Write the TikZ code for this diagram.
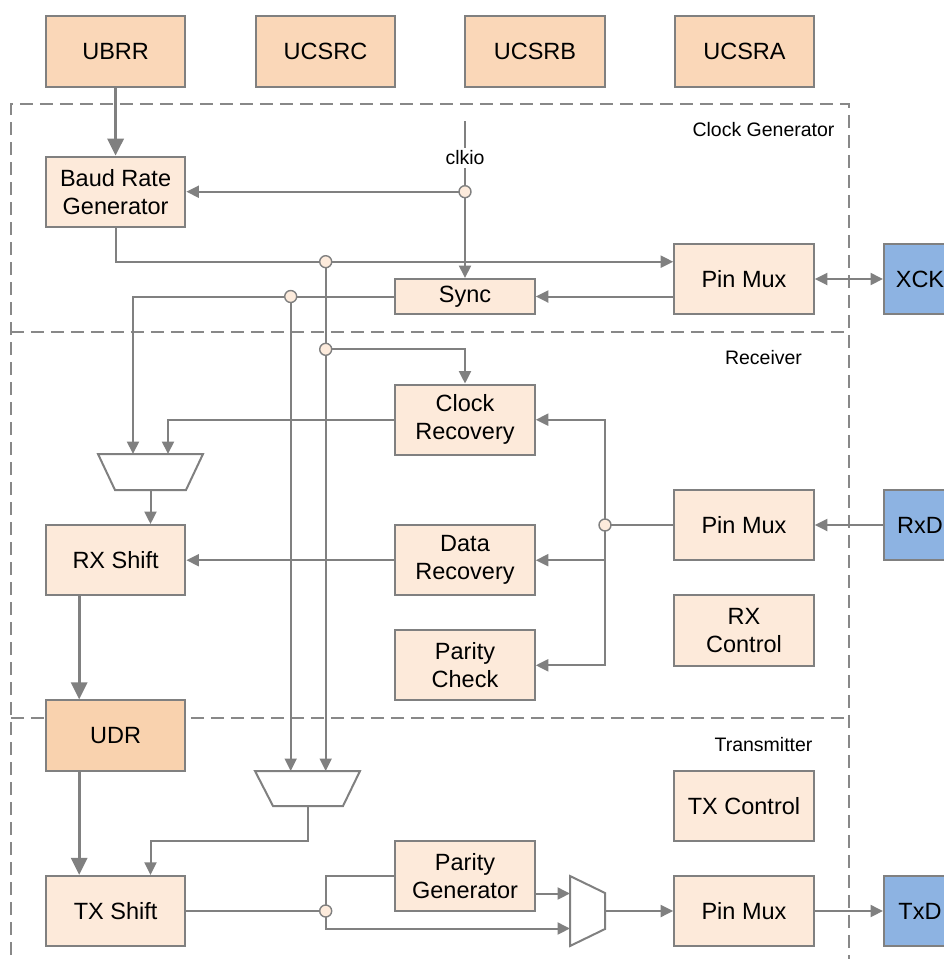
\documentclass[tikz,border=0pt]{standalone}
\usepackage{fontspec}
\setmainfont{Liberation Sans}
\usetikzlibrary{arrows.meta,calc}
\definecolor{lg}{HTML}{808080}
\definecolor{dg}{HTML}{888888}
\definecolor{boxf}{HTML}{FDEADA}
\definecolor{regf}{HTML}{FAD7B8}
\definecolor{udrf}{HTML}{F9D2AE}
\definecolor{pinf}{HTML}{8DB3E2}
\definecolor{junf}{HTML}{FDEBDC}
\begin{document}
\begin{tikzpicture}[x=1pt,y=-1pt,
  blk/.style={draw=lg, line width=2pt, fill=boxf, minimum width=139.6pt, minimum height=70.3pt, inner sep=0pt, align=center, font=\fontsize{23.5}{28}\selectfont},
  regbox/.style={blk, fill=regf},
  udrbox/.style={blk, fill=udrf},
  pinbox/.style={blk, fill=pinf, minimum width=72pt},
  lbl/.style={font=\fontsize{19.5}{23}\selectfont, inner sep=1pt},
  wire/.style={draw=lg, line width=2pt},
  arr/.style={wire, -{Triangle[length=12.5pt,width=12pt]}},
  darr/.style={wire, {Triangle[length=12.5pt,width=12pt]}-{Triangle[length=12.5pt,width=12pt]}},
  bigarr/.style={draw=lg, line width=3.2pt, -{Triangle[length=17pt,width=16pt]}},
  frame/.style={draw=dg, line width=1.8pt, dash pattern=on 13pt off 7pt},
  mux/.style={draw=lg, line width=2pt, fill=white, line join=miter},
  junc/.style={circle, draw=lg, line width=1.4pt, fill=junf, minimum size=12pt, inner sep=0pt}
]
\useasboundingbox (0,0) rectangle (944,959);
\clip (0,0) rectangle (944,959);

% section frames
\draw[frame] (10.8,975) -- (10.8,104) -- (849,104) -- (849,975);
\draw[frame] (10.8,331.7) -- (849,331.7);
\draw[frame] (10.8,717.7) -- (849,717.7);
\node[lbl] (lcg) at (763.5,130) {Clock Generator};
\node[lbl] (lrx) at (763.5,357.7) {Receiver};
\node[lbl] (ltx) at (763.5,745) {Transmitter};

% registers
\node[regbox] (ubrr)  at (115.6,51.5) {UBRR};
\node[regbox] (ucsrc) at (325.5,51.5) {UCSRC};
\node[regbox] (ucsrb) at (535,51.5) {UCSRB};
\node[regbox] (ucsra) at (744.5,51.5) {UCSRA};

% clock generator
\node[blk] (brg)  at (115.6,191.8) {Baud Rate\\Generator};
\node[blk] (pmc)  at (744,279) {Pin Mux};
\node[pinbox] (xck) at (920,279) {XCK};
\node[blk, minimum height=35pt] (sync) at (465,296.5) {Sync};

% receiver
\node[blk] (clkr) at (465,419.7) {Clock\\Recovery};
\node[blk] (pmr)  at (744,525) {Pin Mux};
\node[pinbox] (rxd) at (920,525) {RxD};
\node[blk] (datr) at (465,560.2) {Data\\Recovery};
\node[blk] (rxs)  at (115.6,560.2) {RX Shift};
\node[blk] (rxc)  at (744,630.5) {RX\\Control};
\node[blk] (parc) at (465,665.3) {Parity\\Check};

% transmitter
\node[udrbox] (udr) at (115.6,735.5) {UDR};
\node[blk] (txc)  at (744,805.7) {TX Control};
\node[blk] (parg) at (465,876) {Parity\\Generator};
\node[blk] (txs)  at (115.6,911) {TX Shift};
\node[blk] (pmt)  at (744,911) {Pin Mux};
\node[pinbox] (txd) at (920,911) {TxD};

% multiplexers
\draw[mux] (98,454) -- (203,454) -- (186,490) -- (115,490) -- cycle;
\coordinate (rxmA) at (133,454);
\coordinate (rxmB) at (168,454);
\coordinate (rxmO) at (150.5,490);
\draw[mux] (255,771) -- (360,771) -- (343,806) -- (273,806) -- cycle;
\coordinate (txmA) at (290.7,771);
\coordinate (txmB) at (325.7,771);
\coordinate (txmO) at (308,806);
\draw[mux] (570,876) -- (605,893) -- (605,929) -- (570,946) -- cycle;
\coordinate (omA) at (570,893.5);
\coordinate (omB) at (570,928.5);
\coordinate (omO) at (605,911);

% junction points
\coordinate (jc) at (465,191.7);
\coordinate (j1) at (325.7,261.7);
\coordinate (j2) at (290.7,296.5);
\coordinate (j3) at (325.7,349.3);
\coordinate (j4) at (605,525);
\coordinate (j5) at (325.7,911);
\coordinate (clktop) at (465,121);
\coordinate (txk) at (150.5,840.7);
\coordinate (rxsb) at ($(rxs.south west)+(34.4,0)$);
\coordinate (udrb) at ($(udr.south west)+(34.4,0)$);

% clock generator wires
\draw[bigarr] (ubrr) -- (brg);
\draw[arr] (clktop) -- (sync.north);
\node[lbl, fill=white, inner sep=3pt] (clk) at (465,158) {clkio};
\draw[arr] (jc) -- (jc -| brg.east);
\draw[arr] (brg.south) |- (j1) -- (j1 -| pmc.west);
\draw[arr] (pmc.west |- sync.east) -- (sync.east);
\draw[darr] (pmc.east) -- (xck.west);
\draw[arr] (sync.west) -| (rxmA);
\draw[arr] (j2) -- (txmA);
\draw[arr] (j1) -- (txmB);
\draw[arr] (j3) -| (clkr.north);

% receiver wires
\draw[arr] (clkr.west) -| (rxmB);
\draw[arr] (rxmO) -- (rxmO |- rxs.north);
\draw[arr] (rxd.west) -- (pmr.east);
\draw[wire] (pmr.west) -- (j4);
\draw[arr] (j4) |- (clkr.east);
\draw[arr] (j4) |- (datr.east);
\draw[arr] (j4) |- (parc.east);
\draw[arr] (datr.west) -- (rxs.east);
\draw[bigarr] (rxsb) -- (rxsb |- udr.north);

% transmitter wires
\draw[bigarr] (udrb) -- (udrb |- txs.north);
\draw[arr] (txmO) |- (txk) -- (txk |- txs.north);
\draw[wire] (txs.east) -- (j5);
\draw[wire] (j5) |- (parg.west);
\draw[arr] (j5) |- (omB);
\draw[arr] (parg.east |- omA) -- (omA);
\draw[arr] (omO) -- (pmt.west);
\draw[arr] (pmt.east) -- (txd.west);

% junction dots
\foreach \j in {jc,j1,j2,j3,j4,j5} \node[junc] at (\j) {};
\end{tikzpicture}
\end{document}
